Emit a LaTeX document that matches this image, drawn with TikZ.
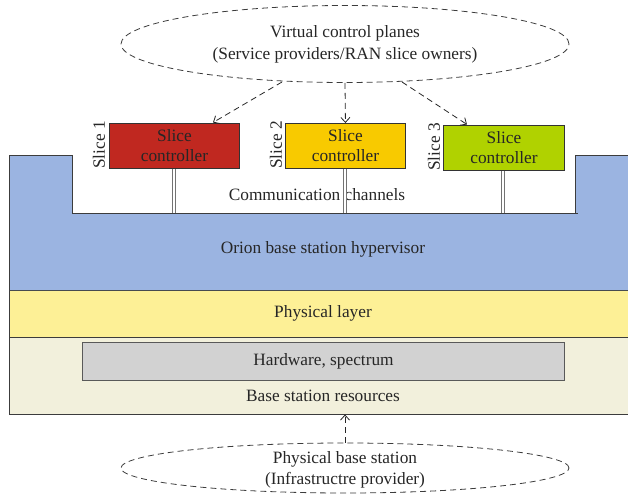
\documentclass[tikz,border=0pt]{standalone}
\usepackage{fontspec}
\setmainfont{Liberation Serif}
\usetikzlibrary{arrows.meta,shapes.geometric}

\definecolor{lineC}{RGB}{60,60,60}
\definecolor{hyperC}{RGB}{155,180,225}
\definecolor{phyC}{RGB}{253,240,150}
\definecolor{resC}{RGB}{242,240,220}
\definecolor{hwC}{RGB}{210,210,210}
\definecolor{sliceA}{RGB}{192,40,32}
\definecolor{sliceB}{RGB}{248,202,0}
\definecolor{sliceC}{RGB}{176,210,0}

\newcommand{\labelfont}{\fontsize{17.3}{21}\selectfont}

\tikzset{
  txt/.style={font=\labelfont, text=black!85, align=center, inner sep=0pt},
  plane/.style={draw=lineC, dash pattern=on 6pt off 4pt, ellipse, line width=0.8pt},
  ctrl/.style={draw=black!80, line width=0.9pt, minimum width=130pt, minimum height=45pt,
               font=\fontsize{17.3}{20}\selectfont, text=black!85, align=center, inner sep=0pt},
  slicelab/.style={font=\labelfont, text=black!85, rotate=90, inner sep=0pt},
  flow/.style={draw=black!85, line width=0.8pt, dash pattern=on 6pt off 4pt,
               -{Straight Barb[length=5pt,width=9pt]}},
  stem/.style={draw=black!55, line width=1pt, double=white, double distance=1.2pt},
  layer/.style={draw=lineC, line width=1pt}
}

\begin{document}
\begin{tikzpicture}[x=1pt,y=-1pt]
\useasboundingbox (0,0) rectangle (628,494);

% base station resources and physical layer
\fill[resC] (9.5,337) rectangle (628,414);
\draw[layer] (628,414) -- (9.5,414) -- (9.5,337);
\fill[phyC] (9.5,290) rectangle (628,337);
\draw[layer] (9.5,290) -- (9.5,337) -- (628,337);
\draw[layer] (9.5,290) -- (628,290);

% hypervisor block with the notch for the slice controllers
\fill[hyperC] (9.5,156) -- (72,156) -- (72,213) -- (575,213) -- (575,156)
  -- (628,156) -- (628,290) -- (9.5,290) -- cycle;
\draw[layer] (9.5,290) -- (9.5,156) -- (72,156) -- (72,213) -- (578,213);
\draw[layer] (575,213) -- (575,156) -- (628,156);

% hardware box
\node[draw=black!65, fill=hwC, line width=1pt, minimum width=482pt, minimum height=38pt,
      anchor=north west, inner sep=0pt] (hw) at (82,342) {};
\node[txt] (hwtext) at (hw.center) {Hardware, spectrum};

\node[txt] (res) at (323,396) {Base station resources};
\node[txt] (phy) at (323,313) {Physical layer};
\node[txt] (hyp) at (323,249) {Orion base station hypervisor};
\node[txt] (comm) at (317,195) {Communication channels};

% slice controllers
\node[ctrl, fill=sliceA, anchor=north west] (s1) at (109,123) {Slice\\controller};
\node[ctrl, fill=sliceB, minimum width=120pt, anchor=north west] (s2) at (285,123) {Slice\\controller};
\node[ctrl, fill=sliceC, minimum width=121pt, anchor=north west] (s3) at (443,125) {Slice\\controller};

\node[slicelab] (l1) at (99,145) {Slice 1};
\node[slicelab] (l2) at (276,145) {Slice 2};
\node[slicelab] (l3) at (434,147) {Slice 3};

% channels down to the hypervisor
\coordinate (c1) at (174,213);
\coordinate (c2) at (345,213);
\coordinate (c3) at (503,213);
\draw[stem] (s1.south -| c1) -- (c1);
\draw[stem] (s2.south -| c2) -- (c2);
\draw[stem] (s3.south -| c3) -- (c3);

% control planes
\node[plane, minimum width=448pt, minimum height=77pt] (vcp) at (345,44) {};
\node[txt, align=center] (vcptext) at (345,44) {Virtual control planes\\[1pt](Service providers/RAN slice owners)};

\node[plane, minimum width=448pt, minimum height=50pt] (pbs) at (345,468) {};
\node[txt] (pbstext) at (345,470) {Physical base station\\(Infrastructre provider)};

\coordinate (a1) at (282,82);
\coordinate (a3) at (402,82);
\draw[flow] (a1) -- (213,122.5);
\draw[flow] (vcp.south) -- (s2.north);
\draw[flow] (a3) -- (467,124.5);
\draw[flow] (pbs.north) -- (345,414.5);
\end{tikzpicture}
\end{document}
